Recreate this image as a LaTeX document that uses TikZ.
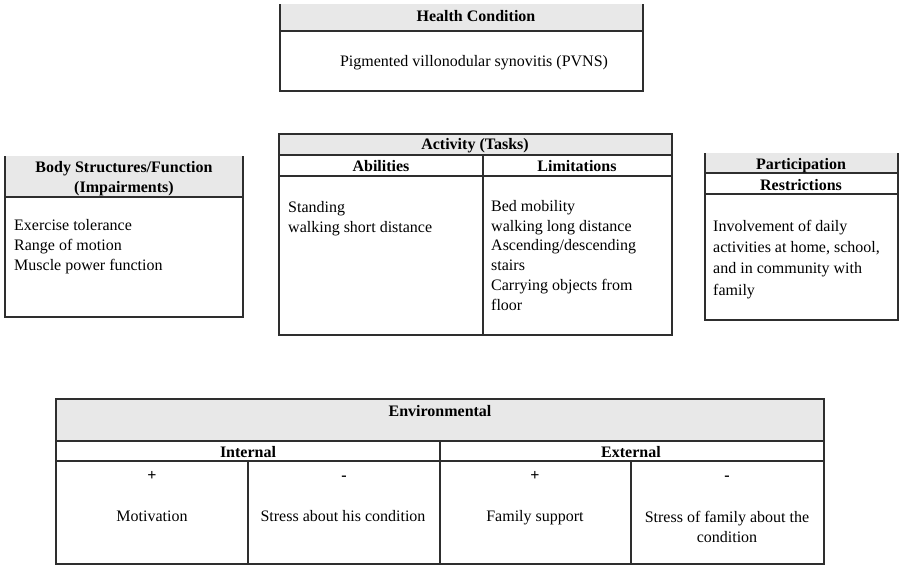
\documentclass[tikz,border=0pt]{standalone}
\usepackage{fontspec}
\setmainfont{Liberation Serif}
\definecolor{bandgray}{HTML}{E8E8E8}
\definecolor{rulegray}{HTML}{2E2E2E}
\newcommand\diagfont{\fontsize{16}{20}\selectfont}
\tikzset{
  box/.style={draw=rulegray, line width=1.4pt},
  band/.style={fill=bandgray},
  head/.style={font=\diagfont\bfseries, anchor=mid, inner sep=0pt},
  entry/.style={anchor=mid, inner sep=0pt},
  items/.style={anchor=north west, inner sep=0pt, align=left},
  cell/.style={anchor=north, inner sep=0pt, align=center}
}
\begin{document}
\begin{tikzpicture}[x=1pt,y=-1pt,font=\diagfont]
\useasboundingbox (0,0) rectangle (899,565);

% health condition
\fill[band] (280,4) rectangle (643,31);
\draw[box] (280,4) -- (280,91) -- (643,91) -- (643,4);
\draw[box] (280,31) -- (643,31);
\node[head] (health) at (476,19) {Health Condition};
\node[entry] (pvns) at (474,64) {Pigmented villonodular synovitis (PVNS)};

% body structures / function
\fill[band] (5,156) rectangle (243,197);
\draw[box] (5,156) -- (5,317) -- (243,317) -- (243,156);
\draw[box] (5,197) -- (243,197);
\node[head, align=center, anchor=center] (body) at (124,179) {Body Structures/Function\\(Impairments)};
\node[items] (bodylist) at (14,219) {Exercise tolerance\\Range of motion\\Muscle power function};

% activity
\fill[band] (279,134) rectangle (672,155);
\draw[box] (279,134) rectangle (672,335);
\draw[box] (279,155) -- (672,155) (279,176) -- (672,176) (483,155) -- (483,335);
\node[head] (act) at (475,147) {Activity (Tasks)};
\node[head] (abil) at (381,169) {Abilities};
\node[head] (limit) at (577,169) {Limitations};
\node[items] (abillist) at (288,201) {Standing\\walking short distance};
\node[items, font=\fontsize{16}{19.8}\selectfont] (limitlist) at (491,200) {Bed mobility\\walking long distance\\Ascending/descending\\stairs\\Carrying objects from\\floor};

% participation
\fill[band] (705,153) rectangle (898,173);
\draw[box] (705,153) -- (705,320) -- (898,320) -- (898,153);
\draw[box] (705,173) -- (898,173) (705,194) -- (898,194);
\node[head] (part) at (801,167) {Participation};
\node[head] (restr) at (801,188) {Restrictions};
\node[items, font=\fontsize{16}{21.2}\selectfont] (partlist) at (713,220) {Involvement of daily\\activities at home, school,\\and in community with\\family};

% environmental
\fill[band] (56,399) rectangle (824,441);
\draw[box] (56,399) rectangle (824,564);
\draw[box] (56,441) -- (824,441) (56,461) -- (824,461) (440,441) -- (440,564)
  (248,461) -- (248,564) (631,461) -- (631,564);
\node[head] (env) at (440,414) {Environmental};
\node[head] (intern) at (248,455) {Internal};
\node[head] (extern) at (631,455) {External};
\foreach \x/\s [count=\i] in {152/+,344/-,535/+,727/-}
  \node[head] (sign\i) at (\x,478) {\s};
\node[entry] (motiv) at (152,519) {Motivation};
\node[entry] (stress) at (343,519) {Stress about his condition};
\node[entry] (famsup) at (535,519) {Family support};
\node[cell] (famstress) at (727,511) {Stress of family about the\\condition};

\end{tikzpicture}
\end{document}
